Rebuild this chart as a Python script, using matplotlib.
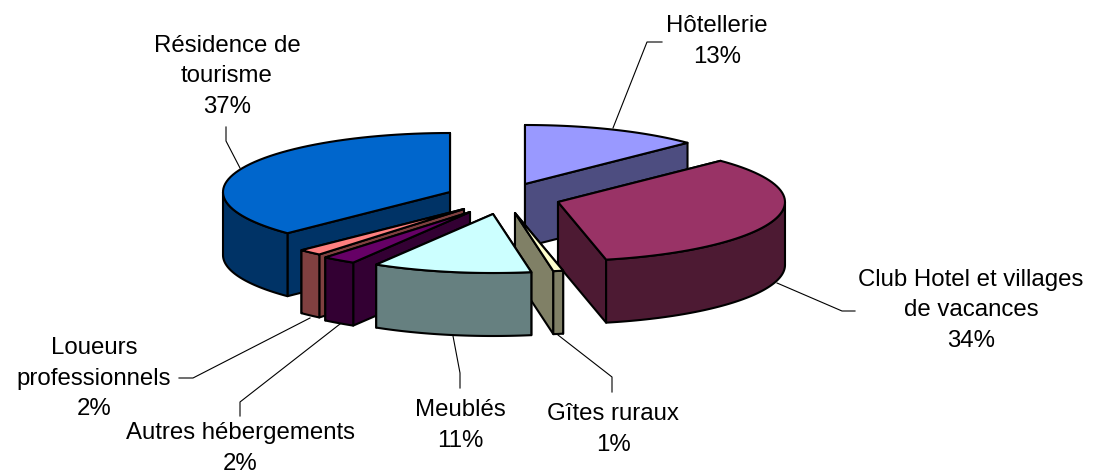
import numpy as np
import matplotlib
matplotlib.use('Agg')
import matplotlib.pyplot as plt
from matplotlib.patches import Polygon

plt.rcParams['font.family'] = ['Liberation Sans', 'DejaVu Sans']

# parts, clockwise from 12 o'clock
categories = ['Hôtellerie', 'Club Hotel et villages\nde vacances', 'Gîtes ruraux', 'Meublés',
              'Autres hébergements', 'Loueurs\nprofessionnels', 'Résidence de\ntourisme']
values = [12.7, 33.9, 0.7, 11.3, 2.4, 1.7, 37.3]
top_colors = ['#9999FF', '#993366', '#FFFFCC', '#CCFFFF', '#660066', '#FF8080', '#0066CC']
side_colors = ['#4D4D80', '#4D1A33', '#808066', '#668080', '#330033', '#804040', '#003366']

# apex of each exploded slice, in pixels
centers = [(525, 184), (558, 202), (515, 213), (493, 214), (470, 212), (464, 209), (450, 192)]
draw_order = [0, 6, 1, 5, 4, 2, 3]

# x centre and baseline of the last line of each label
label_pos = [(717, 63), (971, 347), (613, 451), (460, 447), (240, 470), (94, 415), (227, 113)]
leaders = [[(613, 128), (647, 42), (662, 42)],
           [(777, 283), (842, 311), (855, 311)],
           [(558, 335), (612, 377), (612, 392)],
           [(453, 336), (460, 373), (460, 388)],
           [(340, 324), (240, 402), (240, 416)],
           [(310, 318), (193, 378), (179, 378)],
           [(240, 168), (226, 141), (226, 127)]]

RX, RY, DEPTH = 227, 59, 63


def arc(cx, cy, a0, a1, n=60):
    t = np.radians(np.linspace(a0, a1, n))
    return np.column_stack([cx + RX * np.sin(t), cy - RY * np.cos(t)])


def draw_slice(ax, cx, cy, a0, a1, top, side):
    kw = dict(edgecolor='black', linewidth=1.5, joinstyle='round')
    down = np.array([0, DEPTH])
    apex = np.array([cx, cy])
    # the two cut faces, the one lower on screen goes last
    for a in sorted((a0, a1), key=lambda v: -np.cos(np.radians(v))):
        p = arc(cx, cy, a, a, 1)[0]
        ax.add_patch(Polygon([apex, p, p + down, apex + down], facecolor=side, **kw))
    # outer wall, only the front half shows
    f0, f1 = max(a0, 90), min(a1, 270)
    if f1 > f0:
        rim = arc(cx, cy, f0, f1)
        ax.add_patch(Polygon(np.vstack([rim, rim[::-1] + down]), facecolor=side, **kw))
    ax.add_patch(Polygon(np.vstack([apex, arc(cx, cy, a0, a1)]), facecolor=top, **kw))


fig = plt.figure(figsize=(10.93, 4.75), dpi=100)
ax = fig.add_axes([0, 0, 1, 1])
ax.set_xlim(0, 1093)
ax.set_ylim(475, 0)
ax.axis('off')

edges = np.cumsum([0] + values) / sum(values) * 360
for i in draw_order:
    draw_slice(ax, centers[i][0], centers[i][1], edges[i], edges[i + 1], top_colors[i], side_colors[i])

for i, name in enumerate(categories):
    xs, ys = zip(*leaders[i])
    ax.plot(xs, ys, color='black', lw=0.8)
    ax.text(label_pos[i][0], label_pos[i][1], f'{name}\n{values[i]:.0f}%', ha='center', va='baseline',
            fontsize=17.3, linespacing=1.5, color='black')

fig.savefig('out.png', dpi=100)
